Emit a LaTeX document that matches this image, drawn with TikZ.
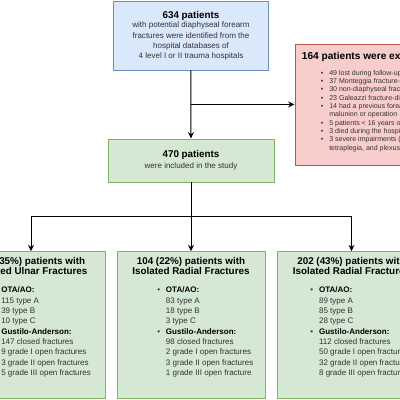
\documentclass[tikz,border=0pt]{standalone}
\usepackage{fontspec}
\setmainfont{Liberation Sans}
\usetikzlibrary{arrows.meta,calc,positioning}

\newdimen\px \px=0.025cm

\begin{document}
\begin{tikzpicture}[x=0.025cm, y=-0.025cm, >={Stealth[length=4.5pt, width=4.2pt]},
    box/.style={draw, rectangle, line width=0.7pt, inner sep=0pt},
    headtxt/.style={font=\fontsize{7}{8}\selectfont\bfseries, anchor=base, inner sep=0pt},
    bodytxt/.style={font=\fontsize{5.7}{7}\selectfont, text=black!80, anchor=base, inner sep=0pt},
    listtxt/.style={font=\fontsize{5}{6}\selectfont, text=black!80, anchor=base west, inner sep=0pt},
    conn/.style={->, line width=0.7pt}]
  \definecolor{bluefill}{HTML}{DAE8FC}
  \definecolor{blueline}{HTML}{6C8EBF}
  \definecolor{greenfill}{HTML}{D5E8D4}
  \definecolor{greenline}{HTML}{82B366}
  \definecolor{redfill}{HTML}{F8CECC}
  \definecolor{redline}{HTML}{B85450}
  \useasboundingbox (0,0) rectangle (400,400);
  \clip (0,0) rectangle (400,400);
  \fill[white] (0,0) rectangle (400,400);

  % screening
  \node[box, fill=bluefill, draw=blueline, minimum width=155.5\px, minimum height=68.7\px] (found) at (190.75,35.65) {};
  \node[headtxt] (found-head) at (191,18.3) {634 patients};
  \foreach \txt [count=\i from 0] in {with potential diaphyseal forearm, fractures were identified from the,
      hospital databases of, 4 level I or II trauma hospitals}
    \node[bodytxt] (found-\i) at (191,28+10.2*\i) {\txt};

  % excluded
  \node[box, fill=redfill, draw=redline, minimum width=160\px, minimum height=121\px] (excl) at (375,104.5) {};
  \node[headtxt, anchor=base west, font=\fontsize{7.2}{8}\selectfont\bfseries] (excl-head) at (301.7,59.3) {164 patients were excluded};
  \foreach \txt [count=\i from 0] in {49 lost during follow-up, 37 Monteggia fracture-dislocations,
      30 non-diaphyseal fractures, 23 Galeazzi fracture-dislocations, 14 had a previous forearm fracture,
      malunion or operation, 5 patients < 16 years old, 3 died during the hospital stay,
      3 severe impairments (paraplegia, {tetraplegia, and plexus injury)}}
    \node[listtxt] (excl-\i) at (329,75.3+8.32*\i) {\txt};
  \foreach \i in {0,1,2,3,4,6,7,8}
    \node[listtxt, anchor=base] (excl-dot-\i) at (322,75.3+8.32*\i) {\textbullet};

  % included
  \node[box, fill=greenfill, draw=greenline, minimum width=166\px, minimum height=43\px] (incl) at (191,160.5) {};
  \node[headtxt] (incl-head) at (191,157.5) {470 patients};
  \node[bodytxt] (incl-sub) at (191,168) {were included in the study};

  % groups
  \foreach \nm/\cx/\tx/\head/\kind/\ta/\tb/\tc/\gc/\gi/\gii/\giii in {
      ulna/31/1/{164 (35\%)}/Ulnar/115/39/10/147/9/3/{5 grade III open fractures},
      radius/191/165.7/{104 (22\%)}/Radial/83/18/3/98/2/3/{1 grade III open fracture},
      both/351.5/318.8/{202 (43\%)}/Radial/89/85/28/112/50/32/{8 grade III open fractures}} {
    \node[box, fill=greenfill, draw=greenline, minimum width=148\px, minimum height=146.5\px] (\nm) at (\cx,324.95) {};
    \node[headtxt] (\nm-head) at (\cx,264) {\head{} patients with};
    \node[headtxt] (\nm-kind) at (\cx,274.3) {Isolated \kind{} Fractures};
    \foreach \txt [count=\i from 0] in {\textcolor{black}{\bfseries OTA/AO:}, \ta{} type A, \tb{} type B, \tc{} type C,
        \textcolor{black}{\bfseries Gustilo-Anderson:}, \gc{} closed fractures, \gi{} grade I open fractures,
        \gii{} grade II open fractures, \giii}
      \node[bodytxt, anchor=base west] (\nm-\i) at (\tx,292.7+10.33*\i) {\txt};
    \foreach \i in {0,4}
      \node[bodytxt] (\nm-dot-\i) at (\tx-7,292.7+10.33*\i) {\textbullet};
  }

  % connectors
  \coordinate (split) at ($(incl.south)!0.5!(radius.north)$);
  \draw[conn] (found) -- (incl);
  \draw[conn] (found.south |- excl.west) -- (excl.west);
  \draw[conn] (incl) -- (radius);
  \draw[conn] (split) -| (ulna.north);
  \draw[conn] (split) -| (both.north);
\end{tikzpicture}
\end{document}
